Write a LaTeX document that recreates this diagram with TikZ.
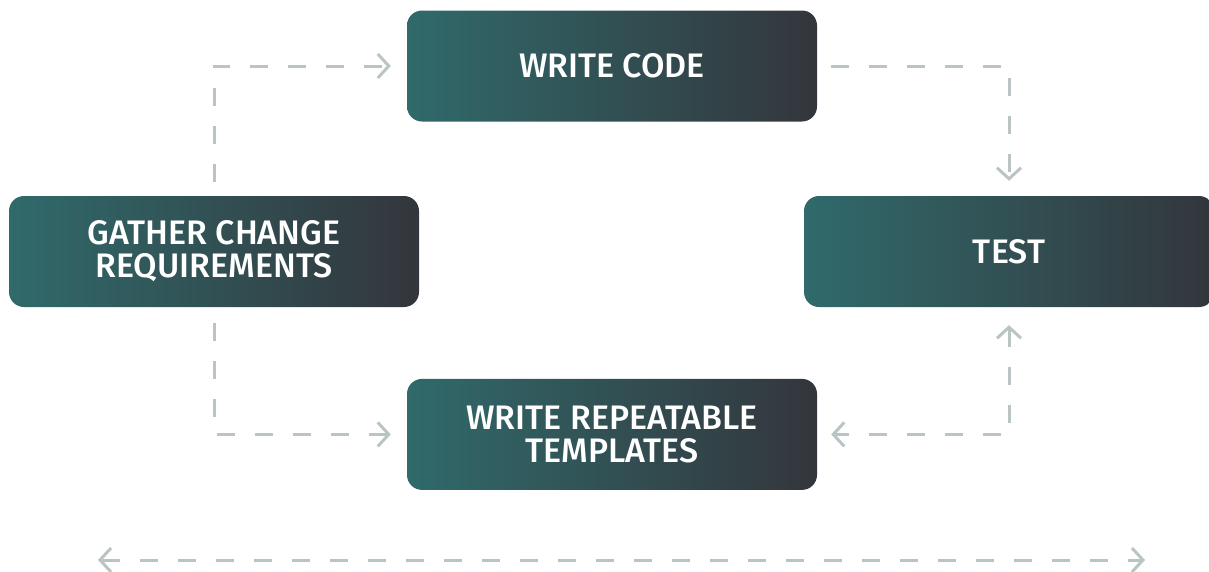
\documentclass[tikz,border=0pt]{standalone}
\usepackage{fontspec}
\setmainfont{Fira Sans}[BoldFont={Fira Sans Medium}]
\usepackage{tikz}
\usetikzlibrary{arrows.meta,positioning}
\definecolor{tealbox}{RGB}{48,106,107}
\definecolor{darkbox}{RGB}{51,54,60}
\definecolor{dashgrey}{RGB}{186,196,196}

\begin{document}
\begin{tikzpicture}[
	x=1pt, y=-1pt,
	font=\fontsize{34}{33}\selectfont\bfseries,
	>={Straight Barb[length=11pt,width=24pt]},
	stepbox/.style={rectangle, rounded corners=15pt, left color=tealbox, right color=darkbox, text=white, minimum width=410pt, minimum height=111pt, align=center, inner sep=0pt},
	flow/.style={->, line width=3pt, dashgrey, dash pattern=on 18pt off 20pt},
]
\useasboundingbox (0,0) rectangle (1209,571);
\node[stepbox] (write) at (612,66) {WRITE CODE};
\node[stepbox] (tmpl) [below=257pt of write] {WRITE REPEATABLE\\TEMPLATES};
\node[stepbox] (gather) at (214,251.5) {GATHER CHANGE\\REQUIREMENTS};
\node[stepbox] (test) at (1009,251.5) {TEST};
\coordinate (spanL) at (98,560);
\coordinate (spanR) at (1145,560);

\draw[flow, shorten <=14pt, shorten >=16pt] (gather.north) |- (write.west);
\draw[flow, shorten <=14pt, shorten >=15pt] (write.east) -| (test.north);
\draw[flow, <->, shorten <=18pt, shorten >=14pt] (test.south) |- (tmpl.east);
\draw[flow, shorten <=16pt, shorten >=16pt] (gather.south) |- (tmpl.west);
\draw[flow, <->] (spanL) -- (spanR);
\end{tikzpicture}
\end{document}
